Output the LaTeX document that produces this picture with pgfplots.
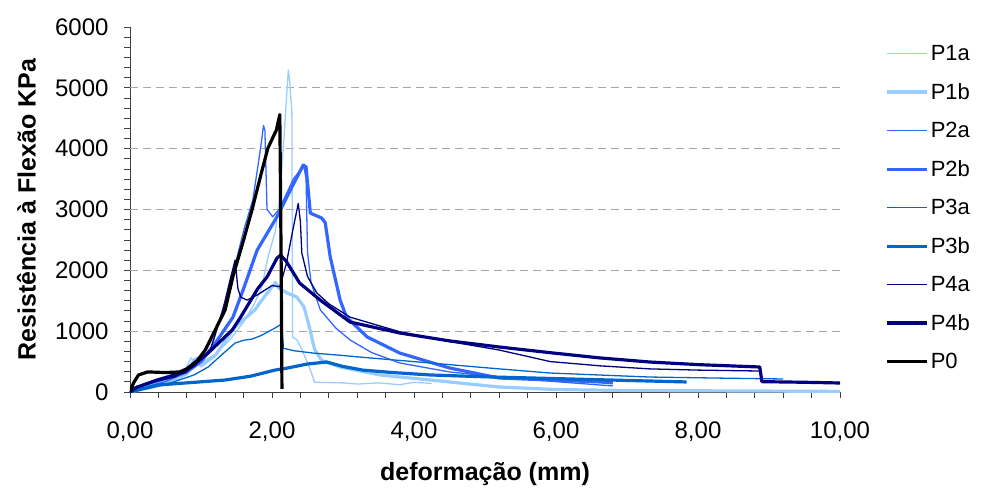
\documentclass[border=0pt]{standalone}
\usepackage{pgfplots}
\pgfplotsset{compat=1.18}
\usepackage{fontspec}
\setmainfont{Liberation Sans}

\definecolor{cLight}{HTML}{99CCFF}
\definecolor{cBlue}{HTML}{3366FF}
\definecolor{cMid}{HTML}{0066CC}
\definecolor{cNavy}{HTML}{000080}

\begin{document}
\begin{tikzpicture}
\path (-130bp,-96bp) rectangle (853bp,392bp);
\begin{axis}[
    scale only axis,
    width=710bp, height=365bp,
    xmin=0, xmax=10, ymin=0, ymax=6000,
    axis x line=bottom, axis y line=left,
    axis line style={-, black!75},
    xtick={0,2,...,10},
    xticklabels={{0,00},{2,00},{4,00},{6,00},{8,00},{10,00}},
    minor x tick num=4,
    ytick={0,1000,...,6000},
    minor y tick num=5,
    tick align=outside,
    major tick length=6bp, minor tick length=6bp,
    tick style={black!75, line width=0.8pt},
    extra y ticks={1000,2000,3000,4000,5000},
    extra y tick labels={},
    extra y tick style={grid=major, major tick length=0pt},
    major grid style={black!35, line width=0.8pt, dash pattern=on 8bp off 5bp},
    scaled ticks=false,
    /pgf/number format/assume math mode=true,
    yticklabel={\pgfmathprintnumber[fixed,precision=0,1000 sep={}]{\tick}},
    tick label style={font=\fontsize{24bp}{28bp}\selectfont},
    yticklabel style={xshift=-12bp},
    xticklabel style={yshift=-20bp},
    xlabel={\textbf{deformação (mm)}},
    ylabel={\textbf{Resistência à Flexão KPa}},
    label style={font=\fontsize{25bp}{29bp}\selectfont},
    x label style={at={(axis description cs:0.5,-0.225)}, anchor=center},
    y label style={at={(axis description cs:-0.146,0.5)}, anchor=center},
    legend style={at={(axis description cs:1.064,0.505)}, anchor=west, draw=none, fill=none,
        font=\fontsize{22bp}{26bp}\selectfont, row sep=17.4bp, inner sep=0pt},
    legend cell align=left,
    legend image code/.code={\draw[#1] (0bp,0bp) -- (40bp,0bp);},
    every axis plot/.append style={line join=round},
]
% P1a
\addplot[cLight, line width=1.3pt] coordinates {
(0,0) (0.1,40) (0.3,110) (0.5,190) (0.7,290) (0.8,420) (0.86,560) (0.9,520) (1.0,480)
(1.2,620) (1.4,850) (1.6,1150) (1.75,1450) (1.85,1700) (1.95,2250) (2.05,2650) (2.12,3350)
(2.17,4200) (2.2,4750) (2.23,5290) (2.25,5100) (2.27,4750) (2.28,4600) (2.29,900) (2.35,860)
(2.42,700) (2.5,480) (2.56,300) (2.6,160) (3.0,150) (3.2,130) (3.5,150) (3.8,120) (4.0,160) (4.25,140)};
\addlegendentry{P1a}
% P1b
\addplot[cLight, line width=3.2pt] coordinates {
(0,0) (0.2,50) (0.5,130) (0.8,300) (0.9,520) (0.95,560) (1.0,430) (1.2,600) (1.48,1070)
(1.76,1350) (1.85,1500) (1.95,1650) (2.05,1800) (2.1,1700) (2.21,1630) (2.35,1560) (2.45,1400)
(2.52,1100) (2.6,700) (2.7,520) (2.96,410) (3.52,280) (4.23,197) (5.2,82) (6.0,40) (7,25)
(8,20) (10,10)};
\addlegendentry{P1b}
% P2a
\addplot[cBlue, line width=1.3pt] coordinates {
(0,0) (0.2,80) (0.5,170) (0.8,320) (0.87,380) (1.0,520) (1.15,740) (1.34,1500) (1.45,1950)
(1.6,2650) (1.73,3160) (1.8,3700) (1.85,4100) (1.88,4380) (1.9,4300) (1.93,3000) (2.01,2880)
(2.1,3000) (2.2,3250) (2.3,3500) (2.4,3650) (2.45,3700) (2.48,3500) (2.5,2300) (2.55,1800)
(2.68,1350) (2.9,1050) (3.1,855) (3.4,650) (3.8,477) (4.5,330) (5.2,247) (6,170) (6.62,115) (6.8,100)};
\addlegendentry{P2a}
% P2b
\addplot[cBlue, line width=3.2pt] coordinates {
(0,0) (0.2,120) (0.5,220) (0.8,330) (1.0,500) (1.2,800) (1.45,1230) (1.6,1700) (1.79,2330)
(2.07,2880) (2.25,3300) (2.44,3730) (2.48,3700) (2.54,2940) (2.7,2860) (2.75,2780) (2.82,2220)
(2.96,1510) (3.05,1230) (3.34,905) (3.8,640) (4.5,395) (5.2,230) (6.62,165) (6.8,150)};
\addlegendentry{P2b}
% P3a
\addplot[cMid, line width=1.3pt] coordinates {
(0,0) (0.3,70) (0.6,160) (0.9,280) (1.1,410) (1.3,620) (1.48,805) (1.6,850) (1.72,870)
(1.85,930) (2.04,1050) (2.14,1120) (2.16,720) (2.3,680) (2.58,640) (3.0,600) (3.38,560)
(4.23,477) (5.2,380) (5.92,312) (7.32,246) (8.5,225) (9.2,214)};
\addlegendentry{P3a}
% P3b
\addplot[cMid, line width=3.2pt] coordinates {
(0,0) (0.39,115) (0.8,150) (1.34,197) (1.7,260) (2.04,360) (2.2,390) (2.5,460) (2.77,493)
(3.0,420) (3.28,360) (3.7,320) (4.23,280) (5.0,250) (6.0,220) (7.0,190) (7.84,165)};
\addlegendentry{P3b}
% P4a
\addplot[cNavy, line width=1.3pt] coordinates {
(0,0) (0.07,82) (0.3,160) (0.63,247) (0.9,420) (1.13,690) (1.31,1350) (1.4,1800) (1.48,2170)
(1.52,1700) (1.56,1560) (1.65,1510) (1.8,1600) (2.0,1750) (2.11,1730) (2.2,2100) (2.3,2700)
(2.37,3100) (2.4,2800) (2.42,2285) (2.5,1900) (2.63,1630) (2.8,1450) (3.1,1230) (3.8,990)
(4.5,830) (5.2,690) (5.92,500) (6.62,430) (7.32,380) (8.0,360) (8.87,345) (8.9,330)};
\addlegendentry{P4a}
% P4b
\addplot[cNavy, line width=3.2pt] coordinates {
(0,0) (0.1,80) (0.39,200) (0.77,330) (1.1,640) (1.44,1020) (1.55,1215) (1.8,1700) (1.93,1890)
(2.07,2200) (2.12,2250) (2.2,2150) (2.39,1790) (2.68,1510) (3.1,1150) (3.8,970) (4.5,840)
(5.2,740) (5.92,646) (6.62,560) (7.32,493) (8.0,450) (8.87,411) (8.9,170) (9.5,160) (10,148)};
\addlegendentry{P4b}
% P0
\addplot[black, line width=3.2pt] coordinates {
(0,0) (0.05,150) (0.12,280) (0.25,330) (0.5,320) (0.7,330) (0.8,380) (0.95,520) (1.06,690)
(1.2,1020) (1.34,1350) (1.45,1900) (1.6,2500) (1.72,3000) (1.85,3600) (1.94,4000) (2.01,4180)
(2.06,4300) (2.11,4560) (2.13,2000) (2.14,50)};
\addlegendentry{P0}
\end{axis}
\end{tikzpicture}
\end{document}
